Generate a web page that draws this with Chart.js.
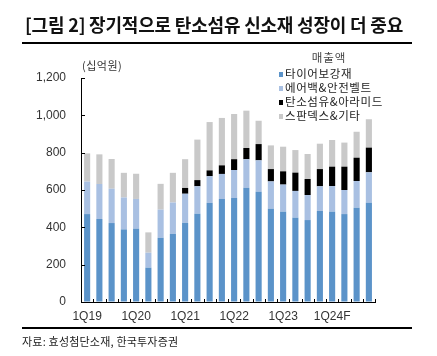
<!DOCTYPE html>
<html>
<head>
<meta charset="utf-8">
<script src="https://cdn.jsdelivr.net/npm/chart.js@4.4.1/dist/chart.umd.min.js"></script>
<style>
  html, body { margin:0; padding:0; background:#fff; }
  #wrap { position:relative; width:437px; height:356px; overflow:hidden; font-family:"Noto Sans CJK KR", sans-serif; }
  #c { position:absolute; left:0; top:0; }
  .title { position:absolute; left:25px; top:12px; font-size:18px; font-weight:bold; line-height:24px; color:#111; white-space:nowrap; letter-spacing:-0.2px; }
  .rule { position:absolute; left:22px; width:390px; height:2px; background:#000; }
  .unit { position:absolute; left:82px; top:58px; font-size:11px; line-height:14px; color:#333; white-space:nowrap; letter-spacing:0.5px; }
  .src { position:absolute; left:22px; top:333px; font-size:11px; line-height:16px; color:#222; white-space:nowrap; letter-spacing:0.2px; }
  #legend { position:absolute; left:277px; top:0; width:110px; font-size:11.5px; color:#222; }
  #legend .lt { position:absolute; left:0; width:104px; text-align:center; color:#444; line-height:14px; letter-spacing:1px; }
  #legend .li { position:absolute; left:2px; white-space:nowrap; line-height:14px; letter-spacing:0.6px; }
  #legend .bx { display:inline-block; width:4px; height:5px; margin-right:2px; vertical-align:1px; }
</style>
</head>
<body>
<div id="wrap">
  <canvas id="c" width="437" height="356"></canvas>
  <div class="title">[그림 2] 장기적으로 탄소섬유 신소재 성장이 더 중요</div>
  <div class="rule" style="top:42px"></div>
  <div class="unit">(십억원)</div>
  <div id="legend"></div>
  <div class="rule" style="top:327px"></div>
  <div class="src">자료: 효성첨단소재, 한국투자증권</div>
</div>
<script>
const categories = ['1Q19','2Q19','3Q19','4Q19','1Q20','2Q20','3Q20','4Q20','1Q21','2Q21','3Q21','4Q21','1Q22','2Q22','3Q22','4Q22','1Q23','2Q23','3Q23','4Q23','1Q24F','2Q24F','3Q24F','4Q24F'];
const seriesNames = ['타이어보강재','에어백&안전벨트','탄소섬유&아라미드','스판덱스&기타'];
const tireCord = [471,445,423,389,393,184,344,365,424,473,531,552,557,612,591,500,484,452,439,488,484,471,505,532];
const airbagBelt = [174,187,184,171,159,80,151,168,156,147,143,134,150,153,168,146,145,143,134,132,137,129,143,163];
const carbonAramid = [0,0,0,0,0,0,0,0,31,33,31,46,58,60,87,66,71,98,86,92,104,125,125,132];
const spandexEtc = [151,159,159,132,135,109,138,159,154,217,259,254,242,200,125,127,132,121,134,136,143,129,139,152];
const yTicks = [0,200,400,600,800,1000,1200];
const legendTitle = '매출액';
const colors = ['#5B93C9','#A9C0E2','#000000','#C9C9C9'];

const tickPlugin = {
  id:'innerTicks',
  afterDraw(chart){
    const ctx = chart.ctx, x = chart.scales.x, y = chart.scales.y, a = chart.chartArea;
    ctx.save();
    ctx.strokeStyle = '#000'; ctx.lineWidth = 1;
    ctx.beginPath();
    yTicks.forEach(v => { const py = Math.round(y.getPixelForValue(v)) + 0.5; ctx.moveTo(a.left, py); ctx.lineTo(a.left + 4, py); });
    const n = categories.length;
    for (let i = 0; i <= n; i++) {
      let px;
      if (i === 0) px = a.left; else if (i === n) px = a.right;
      else px = (x.getPixelForValue(i-1) + x.getPixelForValue(i)) / 2;
      px = Math.round(px) + 0.5;
      ctx.moveTo(px, a.bottom); ctx.lineTo(px, a.bottom - 3);
    }
    ctx.stroke();
    ctx.restore();
  }
};

const chart = new Chart(document.getElementById('c'), {
  type:'bar',
  data:{
    labels:categories,
    datasets:[
      {label:seriesNames[0], data:tireCord, backgroundColor:colors[0]},
      {label:seriesNames[1], data:airbagBelt, backgroundColor:colors[1]},
      {label:seriesNames[2], data:carbonAramid, backgroundColor:colors[2]},
      {label:seriesNames[3], data:spandexEtc, backgroundColor:colors[3]}
    ]
  },
  options:{
    responsive:false, animation:false,
    layout:{padding:{top:78, right:62, bottom:0, left:0}},
    datasets:{bar:{barPercentage:0.5, categoryPercentage:1.0, borderWidth:0}},
    plugins:{legend:{display:false}, tooltip:{enabled:false}, title:{display:false}},
    scales:{
      x:{
        stacked:true,
        grid:{display:true, drawOnChartArea:false, drawTicks:false},
        border:{display:true, color:'#000', width:1},
        ticks:{autoSkip:false, maxRotation:0, padding:7, color:'#333',
          font:{family:'"Liberation Sans", Arial, sans-serif', size:12},
          callback:function(v,i){ const l = categories[i]; return l.startsWith('1Q') ? l : ''; }},
        afterFit(s){ s.height = 54; }
      },
      y:{
        stacked:true, min:0, max:1200,
        grid:{display:true, drawOnChartArea:false, drawTicks:false},
        border:{display:true, color:'#000', width:1},
        afterBuildTicks(s){ s.ticks = yTicks.map(v => ({value:v})); },
        ticks:{padding:15, color:'#333',
          font:{family:'"Liberation Sans", Arial, sans-serif', size:12},
          callback:function(v){ return Number(v).toLocaleString('en-US'); }},
        afterFit(s){ s.width = 81; }
      }
    }
  },
  plugins:[tickPlugin]
});

// HTML legend built from the chart datasets
(function(){
  const lg = document.getElementById('legend');
  const t = document.createElement('div');
  t.className = 'lt'; t.style.top = '50px'; t.textContent = legendTitle;
  lg.appendChild(t);
  chart.data.datasets.forEach((ds, i) => {
    const d = document.createElement('div');
    d.className = 'li';
    d.style.top = (65.5 + i * 14.2) + 'px';
    const b = document.createElement('span');
    b.className = 'bx'; b.style.background = ds.backgroundColor;
    d.appendChild(b);
    d.appendChild(document.createTextNode(ds.label));
    lg.appendChild(d);
  });
})();
</script>
</body>
</html>
